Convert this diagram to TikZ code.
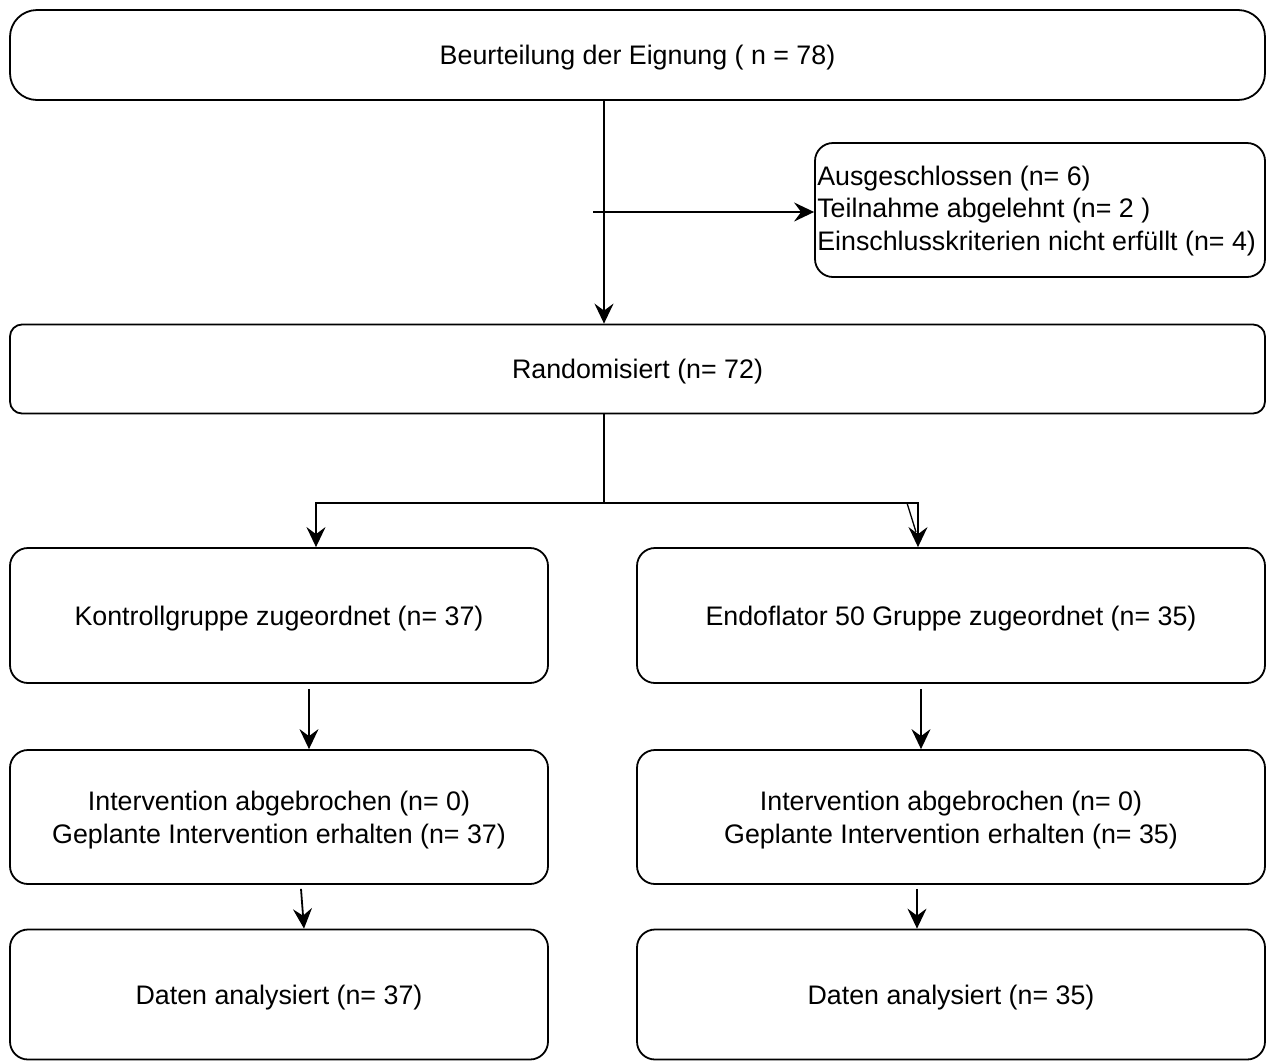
\documentclass[tikz,border=0pt]{standalone}
\usepackage{fontspec}
\setmainfont{Liberation Sans}
\usetikzlibrary{arrows.meta}
\begin{document}
\begin{tikzpicture}[x=1pt,y=-1pt,
  box/.style={draw=black, line width=1.8pt, fill=white, inner sep=0pt, align=center,
    text depth=0pt, font=\fontsize{26.8}{33}\selectfont},
  txt/.style={inner sep=0pt, align=left, font=\fontsize{26.8}{32.5}\selectfont},
  arr/.style={line width=1.8pt, -{Stealth[length=20pt,width=19pt,inset=7pt]}},
  ln/.style={line width=1.8pt}]
\useasboundingbox (0,0) rectangle (1268,1061);
\node[box, rounded corners=27pt, minimum width=1255pt, minimum height=90pt] (top) at (637.5,55) {Beurteilung der Eignung ( n = 78)};
\node[box, rounded corners=18pt, minimum width=450pt, minimum height=134pt] (excl) at (1040,210) {};
\node[txt, anchor=west] (exclt) at ([xshift=3pt,yshift=-1pt]excl.west)
  {Ausgeschlossen (n= 6)\\Teilnahme abgelehnt (n= 2 )\\Einschlusskriterien nicht erfüllt (n= 4)};
\node[box, rounded corners=12pt, minimum width=1255pt, minimum height=89pt] (rand) at (637.5,369) {Randomisiert (n= 72)};
\node[box, rounded corners=18pt, minimum width=538pt, minimum height=135pt] (kon) at (279,615.5) {Kontrollgruppe zugeordnet (n= 37)};
\node[box, rounded corners=18pt, minimum width=628pt, minimum height=135pt] (endo) at (951,615.5) {Endoflator 50 Gruppe zugeordnet (n= 35)};
\node[box, rounded corners=18pt, minimum width=538pt, minimum height=134pt] (ivl) at (279,817) {Intervention abgebrochen (n= 0)\\Geplante Intervention erhalten (n= 37)};
\node[box, rounded corners=18pt, minimum width=628pt, minimum height=134pt] (ivr) at (951,817) {Intervention abgebrochen (n= 0)\\Geplante Intervention erhalten (n= 35)};
\node[box, rounded corners=18pt, minimum width=538pt, minimum height=130pt] (dal) at (279,994.5) {Daten analysiert (n= 37)};
\node[box, rounded corners=18pt, minimum width=628pt, minimum height=130pt] (dar) at (951,994.5) {Daten analysiert (n= 35)};
% connectors
\draw[arr] ([xshift=-33.5pt]top.south) -- ([xshift=-33.5pt]rand.north);
\coordinate (ex0) at (593,212);
\draw[arr] (ex0) -- (ex0 -| excl.west);
\coordinate (split) at (604,503);
\draw[ln] ([xshift=-33.5pt]rand.south) -- (split);
\draw[arr] (split) -| ([xshift=37pt]kon.north);
\draw[arr] (split) -| ([xshift=-33pt]endo.north);
\coordinate (kink) at (907,503);
\coordinate (kinkend) at (916,532);
\draw[line width=1.3pt] (kink) -- (kinkend);
\draw[arr] ([xshift=30pt,yshift=-5pt]kon.south) -- ([xshift=30pt]ivl.north);
\draw[arr] ([xshift=-30pt,yshift=-5pt]endo.south) -- ([xshift=-30pt]ivr.north);
\draw[arr] ([xshift=22pt,yshift=-4pt]ivl.south) -- ([xshift=25pt]dal.north);
\draw[arr] ([xshift=-34pt,yshift=-4pt]ivr.south) -- ([xshift=-34pt]dar.north);
\end{tikzpicture}
\end{document}
